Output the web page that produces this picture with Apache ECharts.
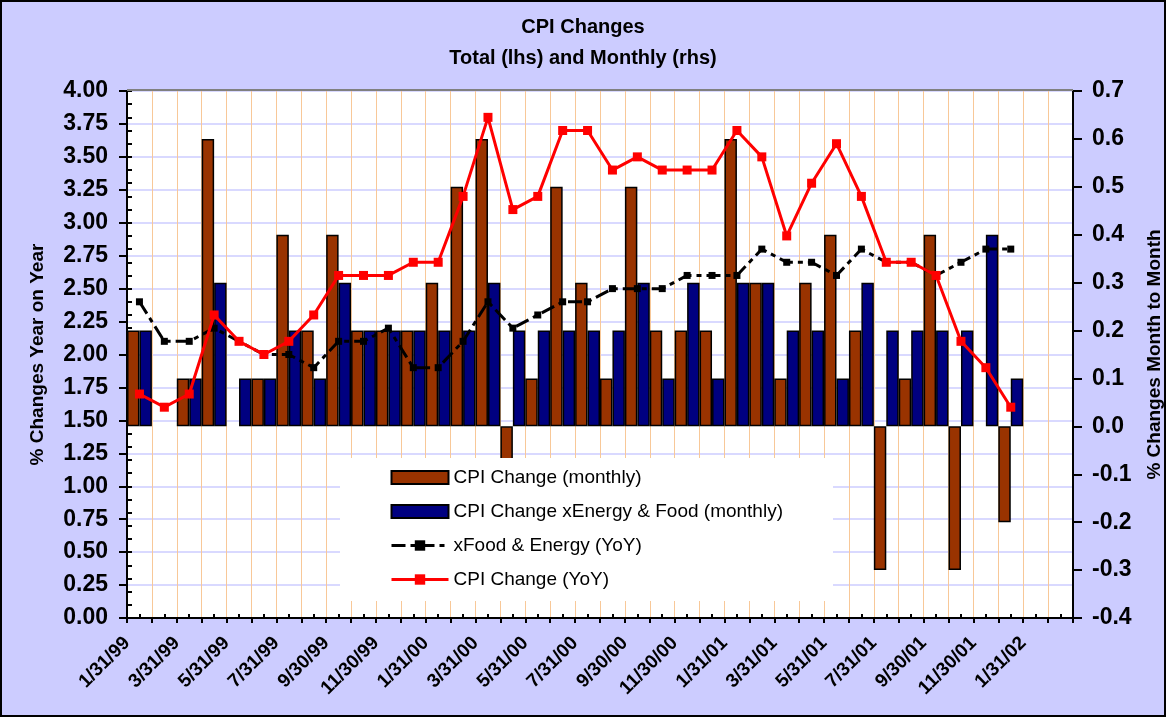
<!DOCTYPE html>
<html>
<head>
<meta charset="utf-8">
<script src="https://cdn.jsdelivr.net/npm/echarts@6/dist/echarts.min.js"></script>
<style>
html,body{margin:0;padding:0;background:#ccccff;}
#chart{width:1166px;height:717px;}
</style>
</head>
<body>
<div id="chart"></div>
<script>
const categories = ['1/31/99','2/28/99','3/31/99','4/30/99','5/31/99','6/30/99','7/31/99','8/31/99','9/30/99','10/31/99','11/30/99','12/31/99',
  '1/31/00','2/29/00','3/31/00','4/30/00','5/31/00','6/30/00','7/31/00','8/31/00','9/30/00','10/31/00','11/30/00','12/31/00',
  '1/31/01','2/28/01','3/31/01','4/30/01','5/31/01','6/30/01','7/31/01','8/31/01','9/30/01','10/31/01','11/30/01','12/31/01',
  '1/31/02','2/28/02'];
const tickLabels = ['1/31/99','3/31/99','5/31/99','7/31/99','9/30/99','11/30/99','1/31/00','3/31/00','5/31/00','7/31/00',
  '9/30/00','11/30/00','1/31/01','3/31/01','5/31/01','7/31/01','9/30/01','11/30/01','1/31/02'];
const cpiMonthly = [0.2,0,0.1,0.6,0,0.1,0.4,0.2,0.4,0.2,0.2,0.2,
  0.3,0.5,0.6,-0.1,0.1,0.5,0.3,0.1,0.5,0.2,0.2,0.2,
  0.6,0.3,0.1,0.3,0.4,0.2,-0.3,0.1,0.4,-0.3,0,-0.2];
const coreMonthly = [0.2,0,0.1,0.3,0.1,0.1,0.2,0.1,0.3,0.2,0.2,0.2,
  0.2,0.2,0.3,0.2,0.2,0.2,0.2,0.2,0.3,0.1,0.3,0.1,
  0.3,0.3,0.2,0.2,0.1,0.3,0.2,0.2,0.2,0.2,0.4,0.1];
const coreYoY = [2.4,2.1,2.1,2.2,2.1,2.0,2.0,1.9,2.1,2.1,2.2,1.9,
  1.9,2.1,2.4,2.2,2.3,2.4,2.4,2.5,2.5,2.5,2.6,2.6,
  2.6,2.8,2.7,2.7,2.6,2.8,2.7,2.7,2.6,2.7,2.8,2.8];
const cpiYoY = [1.7,1.6,1.7,2.3,2.1,2.0,2.1,2.3,2.6,2.6,2.6,2.7,
  2.7,3.2,3.8,3.1,3.2,3.7,3.7,3.4,3.5,3.4,3.4,3.4,
  3.7,3.5,2.9,3.3,3.6,3.2,2.7,2.7,2.6,2.1,1.9,1.6];

const FONT = "'Liberation Sans', Arial, sans-serif";
const barData = arr => arr.map(v => v === 0 ? {value: v, itemStyle: {borderWidth: 0}} : v);

const chart = echarts.init(document.getElementById('chart'), null, {renderer: 'canvas'});
const option = {
  backgroundColor: '#ccccff',
  animation: false,
  textStyle: {fontFamily: FONT},
  title: [{
    text: 'CPI Changes', left: 'center', top: 17, padding: 0,
    textStyle: {fontFamily: FONT, fontSize: 20, fontWeight: 'bold', color: '#000'}
  }, {
    text: 'Total (lhs) and Monthly (rhs)', left: 'center', top: 48, padding: 0,
    textStyle: {fontFamily: FONT, fontSize: 20, fontWeight: 'bold', color: '#000'}
  }],
  graphic: [{
    type: 'rect', z: 100, silent: true,
    shape: {x: 1, y: 1, width: 1164, height: 715},
    style: {fill: null, stroke: '#000', lineWidth: 2}
  }, {
    type: 'line', z: 1, silent: true,
    shape: {x1: 127, y1: 90, x2: 1073, y2: 90},
    style: {stroke: '#808080', lineWidth: 2}
  }],
  grid: {
    left: 127, right: 93, top: 91, bottom: 99,
    outerBoundsMode: 'none', containLabel: false,
    show: true, backgroundColor: '#ffffff', borderWidth: 0
  },
  legend: {
    orient: 'vertical', left: 340, top: 458,
    padding: [10, 50, 12, 50],
    backgroundColor: '#ffffff',
    itemWidth: 57, itemHeight: 13, itemGap: 15,
    textStyle: {fontFamily: FONT, fontSize: 19, color: '#000', lineHeight: 19},
    lineStyle: {width: 3},
    data: [
      {name: 'CPI Change (monthly)', icon: 'rect'},
      {name: 'CPI Change xEnergy & Food (monthly)', icon: 'rect'},
      {name: 'xFood & Energy (YoY)'},
      {name: 'CPI Change (YoY)'}
    ]
  },
  xAxis: [{
    type: 'category', data: categories, boundaryGap: true, position: 'bottom',
    axisLine: {onZero: false, lineStyle: {color: '#000', width: 2}},
    axisTick: {show: true, interval: 0, length: 5, lineStyle: {color: '#000', width: 2}},
    axisLabel: {show: false},
    splitLine: {show: true, interval: 0, lineStyle: {color: '#f8c898', width: 1}}
  }, {
    type: 'value', min: 0, max: 38, interval: 1, position: 'bottom',
    axisLine: {show: false, onZero: false},
    axisTick: {show: false, inside: true},
    minorTick: {show: true, splitNumber: 2, length: 4, lineStyle: {color: '#000', width: 2}},
    splitLine: {show: false},
    axisLabel: {
      show: true, rotate: 45, margin: 22, showMinLabel: true, showMaxLabel: true,
      fontFamily: FONT, fontSize: 19, fontWeight: 'bold', color: '#000',
      formatter: function (v) {
        const i = Math.round(v);
        return (i % 2 === 0 && tickLabels[i / 2]) ? tickLabels[i / 2] : '';
      }
    }
  }],
  yAxis: [{
    type: 'value', min: 0, max: 4, interval: 0.25, position: 'left',
    name: '% Changes Year on Year', nameLocation: 'middle', nameRotate: 90, nameGap: 80,
    nameTextStyle: {fontFamily: FONT, fontSize: 19, fontWeight: 'bold', color: '#000'},
    axisLine: {show: true, onZero: false, lineStyle: {color: '#000', width: 2}},
    axisTick: {show: true, length: 8, lineStyle: {color: '#000', width: 2}},
    axisLabel: {fontFamily: FONT, fontSize: 23, fontWeight: 'bold', color: '#000', margin: 19,
      formatter: v => v.toFixed(2)},
    splitLine: {show: true, lineStyle: {color: '#ccccff', width: 1.5}}
  }, {
    type: 'value', min: -0.4, max: 0.7, interval: 0.1, position: 'right',
    name: '% Changes Month to Month', nameLocation: 'middle', nameRotate: 90, nameGap: 72,
    nameTextStyle: {fontFamily: FONT, fontSize: 19, fontWeight: 'bold', color: '#000'},
    axisLine: {show: true, onZero: false, lineStyle: {color: '#000', width: 2}},
    axisTick: {show: true, length: 9, lineStyle: {color: '#000', width: 2}},
    axisLabel: {fontFamily: FONT, fontSize: 23, fontWeight: 'bold', color: '#000', margin: 19,
      formatter: v => v.toFixed(1)},
    splitLine: {show: false}
  }, {
    type: 'value', min: 0, max: 4, interval: 0.1, position: 'left',
    axisLine: {show: false, onZero: false},
    axisTick: {show: true, inside: true, length: 5, lineStyle: {color: '#000', width: 2}},
    axisLabel: {show: false},
    splitLine: {show: false}
  }],
  series: [{
    name: 'CPI Change (monthly)', type: 'bar', xAxisIndex: 0, yAxisIndex: 1,
    data: barData(cpiMonthly), barGap: '0%', barCategoryGap: '0%',
    itemStyle: {color: '#993300', borderColor: '#000', borderWidth: 1.5}, z: 2
  }, {
    name: 'CPI Change xEnergy & Food (monthly)', type: 'bar', xAxisIndex: 0, yAxisIndex: 1,
    data: barData(coreMonthly), barGap: '0%', barCategoryGap: '0%',
    itemStyle: {color: '#000080', borderColor: '#000', borderWidth: 1.5}, z: 2
  }, {
    name: 'xFood & Energy (YoY)', type: 'line', xAxisIndex: 0, yAxisIndex: 0,
    data: coreYoY, symbol: 'rect', symbolSize: 7,
    lineStyle: {color: '#000', width: 3, type: [14, 5, 5, 5]},
    itemStyle: {color: '#000'}, z: 3
  }, {
    name: 'CPI Change (YoY)', type: 'line', xAxisIndex: 0, yAxisIndex: 0,
    data: cpiYoY, symbol: 'rect', symbolSize: 9,
    lineStyle: {color: '#ff0000', width: 3},
    itemStyle: {color: '#ff0000'}, z: 4
  }]
};
chart.setOption(option);
</script>
</body>
</html>
